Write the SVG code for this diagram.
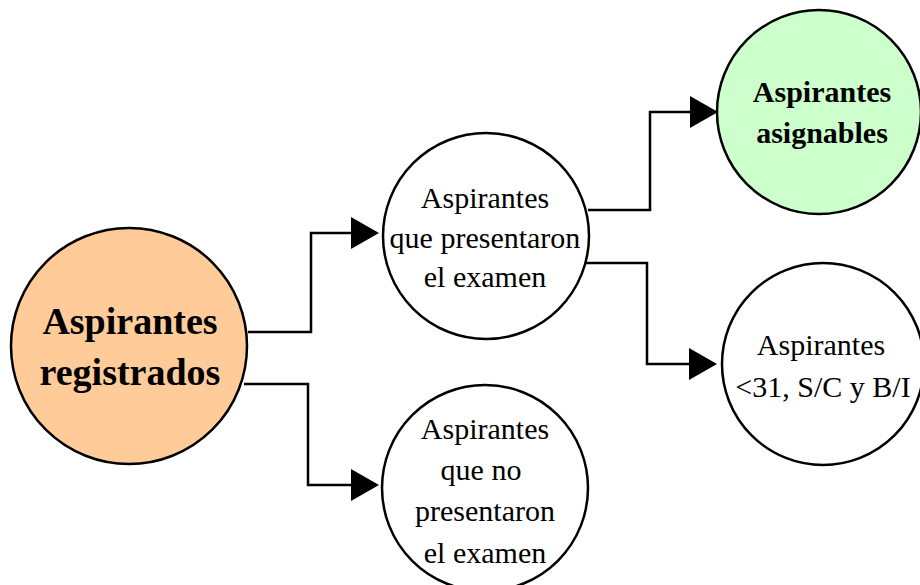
<svg xmlns="http://www.w3.org/2000/svg" width="920" height="585" viewBox="0 0 920 585">
  <style>
    .node { stroke: #000; stroke-width: 2.5; }
    .plain { fill: #fff; }
    .txt { font-family: "Liberation Serif", "Times New Roman", serif; fill: #000; text-anchor: middle; }
    .reg { font-size: 30px; }
    .bold { font-weight: bold; }
    .link { fill: none; stroke: #000; stroke-width: 2.5; marker-end: url(#arrow); }
  </style>
  <defs>
    <marker id="arrow" viewBox="0 0 28 32" markerWidth="28" markerHeight="32" refX="22" refY="16" orient="auto" markerUnits="userSpaceOnUse">
      <path d="M0,0 L28,16 L0,32 Z" fill="#000"/>
    </marker>
  </defs>

  <g id="connectors">
    <path class="link" d="M248,332 H311 V233 H373"/>
    <path class="link" d="M244,384 H308 V485 H373"/>
    <path class="link" d="M588,210 H650 V112 H712"/>
    <path class="link" d="M585,263 H647 V364 H711"/>
  </g>

  <g id="registrados">
    <circle class="node" cx="129" cy="346" r="118" fill="#FFCC99"/>
    <text class="txt bold" x="130" y="334" font-size="38">Aspirantes</text>
    <text class="txt bold" x="130" y="385" font-size="38">registrados</text>
  </g>

  <g id="presentaron">
    <circle class="node plain" cx="486" cy="236" r="103"/>
    <text class="txt reg" x="485" y="208">Aspirantes</text>
    <text class="txt reg" x="485" y="248">que presentaron</text>
    <text class="txt reg" x="485" y="287">el examen</text>
  </g>

  <g id="no-presentaron">
    <circle class="node plain" cx="485" cy="488" r="103"/>
    <text class="txt reg" x="485" y="439">Aspirantes</text>
    <text class="txt reg" x="481" y="480">que no</text>
    <text class="txt reg" x="485" y="521">presentaron</text>
    <text class="txt reg" x="485" y="563">el examen</text>
  </g>

  <g id="asignables">
    <circle class="node" cx="819" cy="112" r="102" fill="#CCFFCC"/>
    <text class="txt reg bold" x="822" y="102">Aspirantes</text>
    <text class="txt reg bold" x="822" y="143">asignables</text>
  </g>

  <g id="menores">
    <circle class="node plain" cx="823" cy="364" r="101"/>
    <text class="txt reg" x="821" y="355">Aspirantes</text>
    <text class="txt reg" x="823" y="397">&lt;31, S/C y B/I</text>
  </g>
</svg>
